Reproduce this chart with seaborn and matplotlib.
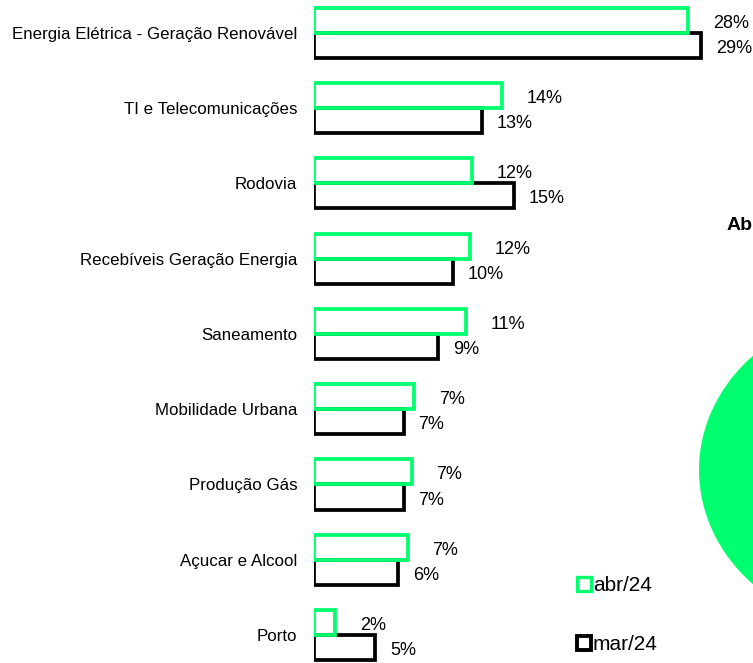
import matplotlib
matplotlib.use('Agg')
import matplotlib.pyplot as plt
from matplotlib.lines import Line2D
from matplotlib.patches import Circle
import seaborn as sns
import pandas as pd

categorias = ['Energia Elétrica - Geração Renovável', 'TI e Telecomunicações', 'Rodovia',
              'Recebíveis Geração Energia', 'Saneamento', 'Mobilidade Urbana',
              'Produção Gás', 'Açucar e Alcool', 'Porto']
abr24 = [28.0, 14.1, 11.8, 11.7, 11.4, 7.5, 7.3, 7.0, 1.6]
mar24 = [29.0, 12.6, 15.0, 10.4, 9.3, 6.7, 6.7, 6.3, 4.6]
rot_abr = ['28%', '14%', '12%', '12%', '11%', '7%', '7%', '7%', '2%']
rot_mar = ['29%', '13%', '15%', '10%', '9%', '7%', '7%', '6%', '5%']

VERDE = '#00ff6e'

df = pd.DataFrame({
    'Setor': categorias * 2,
    'Valor': abr24 + mar24,
    'Mês': ['abr/24'] * len(categorias) + ['mar/24'] * len(categorias),
})

sns.set_style('white')
plt.rcParams['font.family'] = ['Liberation Sans', 'DejaVu Sans']
plt.rcParams['text.color'] = 'black'
plt.rcParams['ytick.color'] = 'black'

fig = plt.figure(figsize=(7.53, 6.63), dpi=100)
ax = fig.add_axes([0.417, 0.0, 0.583, 1.0])

sns.barplot(data=df, y='Setor', x='Valor', hue='Mês', hue_order=['abr/24', 'mar/24'],
            palette={'abr/24': VERDE, 'mar/24': 'black'}, orient='h', fill=False,
            linewidth=2.4, width=0.665, errorbar=None, legend=False, ax=ax)

# barras verdes por cima das pretas
for p in ax.patches:
    if p.get_edgecolor()[1] > 0.5:
        p.set_zorder(3)
        p.set_linewidth(2.7)
    else:
        p.set_zorder(2)
        p.set_linewidth(2.7)

ax.set_xlim(0, 32.86)
ax.set_ylim(8.372, -0.438)
sns.despine(ax=ax, left=True, bottom=True)
ax.set_xticks([])
ax.set_xlabel('')
ax.set_ylabel('')
ax.tick_params(axis='y', length=0, pad=12, labelsize=12.2, labelcolor='black')

bh = 0.665 / 2
for i in range(len(categorias)):
    ax.text(abr24[i] + 1.85, i - bh / 2 + 0.04, rot_abr[i], va='center', ha='left',
            fontsize=13, clip_on=False)
    ax.text(mar24[i] + 1.1, i + bh / 2 + 0.04, rot_mar[i], va='center', ha='left',
            fontsize=13, clip_on=False)

# circulo verde cortado e titulo a direita
fig.patches.append(Circle((882 / 753, 1 - 470 / 663), 183 / 753, transform=fig.transFigure,
                          facecolor=VERDE, edgecolor='none', zorder=0))
fig.text(727 / 753, 1 - 226 / 663, 'Abr/24', fontsize=14, fontweight='bold',
         va='center', ha='left')

handles = [Line2D([], [], marker='s', linestyle='none', markersize=10, markerfacecolor='white',
                  markeredgecolor=VERDE, markeredgewidth=2.4, label='abr/24'),
           Line2D([], [], marker='s', linestyle='none', markersize=10, markerfacecolor='white',
                  markeredgecolor='black', markeredgewidth=2.8, label='mar/24')]
fig.legend(handles=handles, loc='upper left', bbox_to_anchor=(567 / 753, 1 - 568 / 663),
           frameon=False, fontsize=15, handletextpad=0.05, handlelength=0.8,
           labelspacing=1.9, borderaxespad=0)

fig.savefig('out.png', dpi=100)
